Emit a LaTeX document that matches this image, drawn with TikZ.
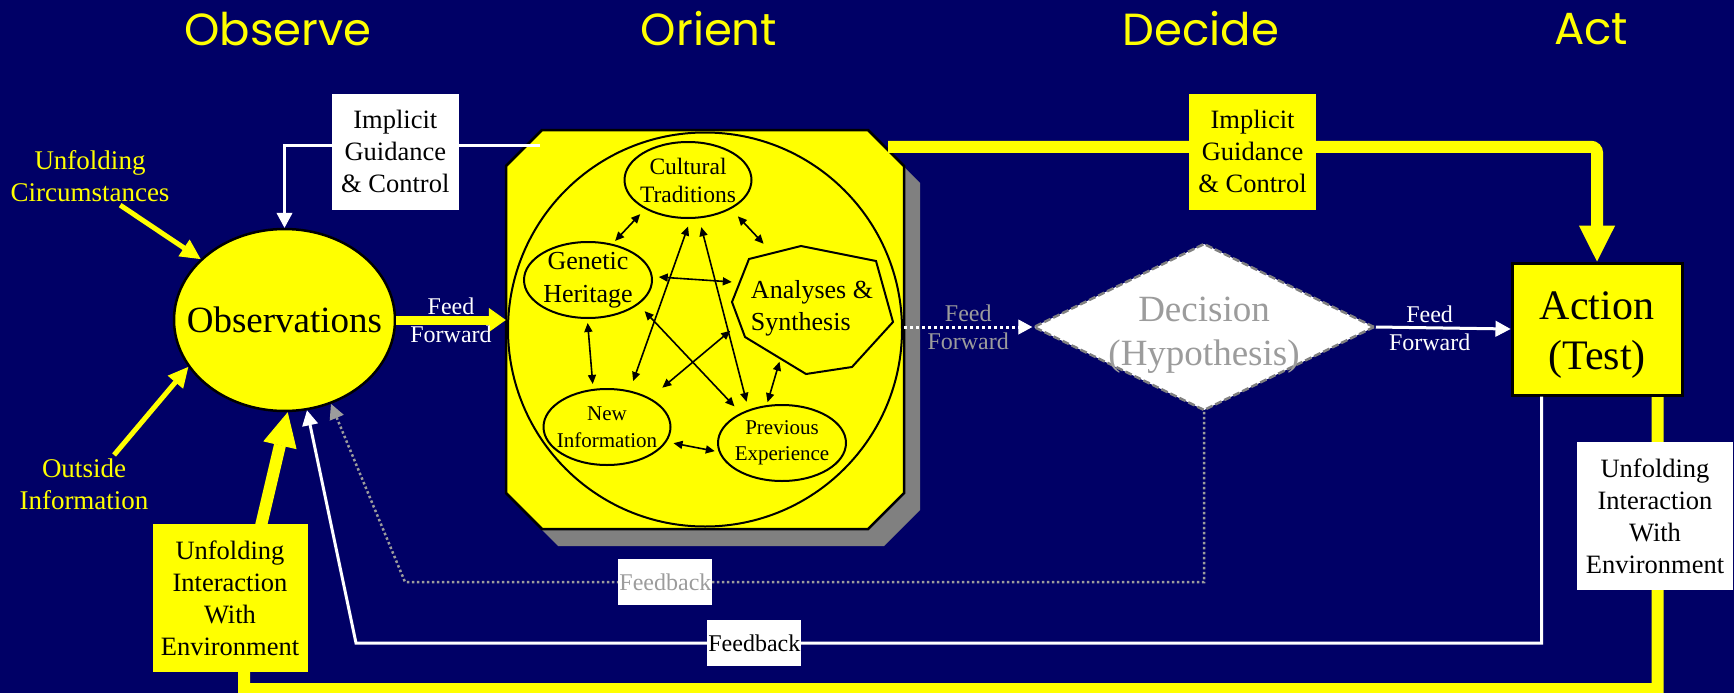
\documentclass[tikz,border=0pt]{standalone}
\usepackage{fontspec}
\setmainfont{Liberation Serif}
\newfontfamily\headfont{Poppins}
\usepackage{tikz}
\usetikzlibrary{shapes.geometric, arrows.meta, calc, positioning}

\definecolor{bgblue}{HTML}{000066}
\definecolor{hotyellow}{HTML}{FFFF00}
\definecolor{shadowgrey}{HTML}{808080}
\definecolor{fadegrey}{HTML}{9C9C9C}

\pgfdeclarelayer{back}
\pgfsetlayers{back,main}

\begin{document}
\begin{tikzpicture}[x=1pt, y=-1pt,
    phase/.style={text=hotyellow, font=\headfont\fontsize{45}{54}\selectfont},
    cue/.style={text=hotyellow, align=center, font=\fontsize{27}{32}\selectfont},
    card/.style={align=center, inner sep=1pt, text=black, sharp corners, font=\fontsize{26.5}{32}\selectfont},
    whitecard/.style={card, fill=white},
    yellowcard/.style={card, fill=hotyellow},
    fbtag/.style={fill=white, text=black, minimum width=94pt, minimum height=46pt, inner sep=1pt, font=\fontsize{24}{28}\selectfont},
    ffwd/.style={align=center, inner sep=0pt, font=\fontsize{24}{28}\selectfont},
    idea/.style={ellipse, draw, line width=2pt, inner sep=-30pt, minimum width=127pt, minimum height=76pt, align=center},
    link/.style={line width=1.6pt, {Triangle[length=9pt,width=8pt]}-{Triangle[length=9pt,width=8pt]}},
  ]
  \useasboundingbox (0,0) rectangle (1734,693);
  \begin{pgfonlayer}{back}
    \fill[bgblue] (0,0) rectangle (1734,693);
  \end{pgfonlayer}

  % Phase titles
  \node[phase] (tobs) at (278,29) {Observe};
  \node[phase] (tori) at (709,29) {Orient};
  \node[phase] (tdec) at (1201,29) {Decide};
  \node[phase] (tact) at (1591,29) {Act};

  % Observe
  \node[ellipse, draw, fill=hotyellow, line width=2.5pt, minimum width=221pt, minimum height=182pt,
        inner sep=-60pt, font=\fontsize{37}{44}\selectfont] (obs) at (284.5,320) {Observations};
  \node[cue] (uc) at (90,176) {Unfolding\\Circumstances};
  \node[cue] (oi) at (84,484) {Outside\\Information};
  \draw[hotyellow, line width=5pt, -{Triangle[length=20pt,width=20pt,line width=1pt]}] (uc.316) -- (obs.144);
  \draw[hotyellow, line width=5pt, -{Triangle[length=20pt,width=20pt,line width=1pt]}] (oi.44) -- (obs.206);

  % Orient
  \node[minimum width=398pt, minimum height=399pt, inner sep=0pt] (ori) at (705,329.5) {};
  \begin{scope}[shift={(ori)}]
    \fill[shadowgrey, shift={(16,17)}] (-163,-199.5) -- (163,-199.5) -- (199,-163.5) -- (199,163.5)
      -- (163,199.5) -- (-163,199.5) -- (-199,163.5) -- (-199,-163.5) -- cycle;
    \draw[fill=hotyellow, line width=2.5pt] (-163,-199.5) -- (163,-199.5) -- (199,-163.5) -- (199,163.5)
      -- (163,199.5) -- (-163,199.5) -- (-199,163.5) -- (-199,-163.5) -- cycle;
    \draw[line width=2pt] (0,0) circle[radius=197];
  \end{scope}

  \node[idea, font=\fontsize{23.5}{28}\selectfont] (ct) at (688,180) {Cultural\\Traditions};
  \node[idea, minimum width=128pt, font=\fontsize{26}{33}\selectfont] (gh) at (588,280) {Genetic\\Heritage};
  \node[idea, font=\fontsize{21}{27}\selectfont] (ni) at (607,427) {New\\Information};
  \node[idea, minimum width=128pt, font=\fontsize{21}{26}\selectfont] (pe) at (782,443) {Previous\\Experience};
  \node[minimum width=160pt, minimum height=128pt, align=left, font=\fontsize{26}{32}\selectfont] (as) at (812,308) {Analyses \&\\Synthesis};
  \draw[line width=2pt, shift={(as)}] (-11,-62) -- (64,-47) -- (81,14) -- (40,59) -- (-6,66)
    -- (-67,29) -- (-80,-6) -- (-63,-49) -- cycle;

  % links inside Orient
  \draw[link, shorten <=7pt, shorten >=4pt] (ct.214) -- (gh.56);
  \draw[link, shorten <=10pt, shorten >=0pt] (ct.326) -- (as.127);
  \draw[link, shorten <=6pt, shorten >=0pt] (gh.3) -- (as.162);
  \draw[link, shorten <=4pt, shorten >=5pt] (gh.269) -- (ni.110);
  \draw[link, shorten <=7pt, shorten >=4pt] (ni.346) -- (pe.188);
  \draw[link, shorten <=3pt, shorten >=-11pt] (pe.112) -- (as.241);
  \draw[link, shorten <=2pt, shorten >=16pt] (as.195) -- (ni.34);
  \draw[link, shorten <=8pt, shorten >=10pt] (ct.274) -- (ni.58);
  \draw[link, shorten <=9pt, shorten >=8pt] (ct.286) -- (pe.135);
  \draw[link, shorten <=9pt, shorten >=9pt] (gh.334) -- (pe.144);

  % Decide and Act
  \node[diamond, aspect=2, fill=white, draw=shadowgrey, dash pattern=on 7pt off 3pt, line width=2.5pt,
        minimum width=341pt, minimum height=167pt, inner sep=-50pt, align=center, text=fadegrey,
        text height=85pt, font=\fontsize{37}{44}\selectfont] (dec) at (1204,327) {Decision\\(Hypothesis)};
  \node[draw, fill=hotyellow, line width=3pt, minimum width=170pt, minimum height=132pt, align=center,
        text height=89pt, font=\fontsize{42}{50}\selectfont] (act) at (1597,329) {Action\\(Test)};

  % Interaction boxes
  \node[yellowcard, minimum width=155pt, minimum height=148pt] (ui) at (230,598) {Unfolding\\Interaction\\With\\Environment};
  \node[whitecard, minimum width=156pt, minimum height=148pt] (rb) at (1655,516) {Unfolding\\Interaction\\With\\Environment};

  % Feed forward
  \draw[hotyellow, line width=9pt, -{Triangle[length=17pt,width=24pt,line width=1pt]}] (obs.east)
    -- node[ffwd, text=white] (ff1) {Feed\\Forward} (obs.east -| ori.west);
  \draw[white, line width=3pt, dash pattern=on 3pt off 3pt, -{Triangle[length=14pt,width=15pt,line width=1pt]}] (ori.east |- dec.west)
    -- node[ffwd, text=fadegrey] (ff2) {Feed\\Forward} (dec.west);
  \draw[white, line width=3pt, -{Triangle[length=15pt,width=16pt,line width=1pt]}] (dec.east)
    -- node[ffwd, text=white, pos=0.4] (ff3) {Feed\\Forward} (act.west);

  % Implicit guidance and control
  \draw[white, line width=3pt, -{Triangle[length=15pt,width=16pt,line width=1pt]}] ($(ori.north west)+(34,16)$)
    -| node[whitecard, minimum width=127pt, minimum height=116pt, pos=0.283, yshift=-6pt] (igl) {Implicit\\Guidance\\\& Control} (obs.north);
  \draw[hotyellow, line width=12pt, rounded corners=6pt, -{Triangle[length=36pt,width=36pt,line width=1pt]}] ($(ori.north east)+(-16,17)$)
    -| node[yellowcard, minimum width=127pt, minimum height=116pt, pos=0.257, yshift=-5pt] (igr) {Implicit\\Guidance\\\& Control} (act.north);

  % Feedback loops
  \begin{pgfonlayer}{back}
    \draw[hotyellow, line width=12pt, -{Triangle[length=34pt,width=34pt,line width=1pt]}] ($(act.south east)+(-26,0)$)
      |- ($(ui.south)+(14,17)$) -- ($(ui)+(14,0)$) -- (obs.272);
  \end{pgfonlayer}
  \draw[white, line width=3pt, -{Triangle[length=15pt,width=16pt,line width=1pt]}] ($(act.south west)+(31,0)$)
    |- node[fbtag, pos=0.832] (fb1) {Feedback} (356,643) -- (obs.284);
  \draw[fadegrey, line width=2.5pt, dash pattern=on 2.5pt off 2.5pt, -{Triangle[length=15pt,width=15pt,line width=1pt]}] (dec.south)
    |- node[fbtag, text=fadegrey, pos=0.837] (fb2) {Feedback} (405,582) -- (obs.299);
\end{tikzpicture}
\end{document}
